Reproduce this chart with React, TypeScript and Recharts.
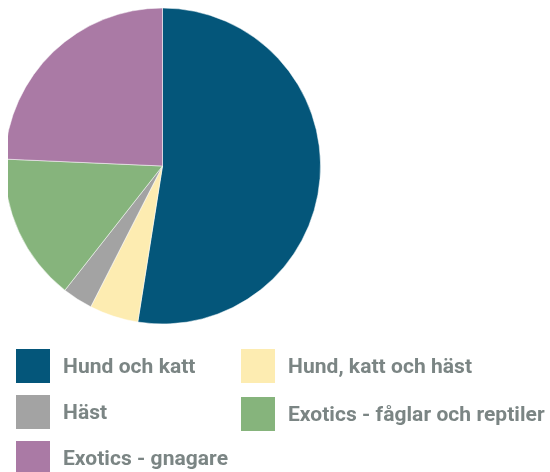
import * as React from 'react';
import { PieChart, Pie, Cell, Legend } from 'recharts';

const categories = [
    'Hund och katt',
    'Hund, katt och häst',
    'Häst',
    'Exotics - fåglar och reptiler',
    'Exotics - gnagare',
];
const shares = [52.5, 5.0, 3.1, 15.1, 24.3];
const colors = ['#04567a', '#fdecb1', '#a3a3a3', '#86b47c', '#aa7aa5'];

// legend order in the picture: two columns, row by row
const legendOrder = [0, 1, 2, 3, 4];

const data = categories.map((name, i) => ({ name, value: shares[i] }));

const LegendGrid = () => (
    <div style={{ position: 'relative', width: 534, height: 124 }}>
        {legendOrder.map((idx, k) => {
            const col = k % 2;
            const row = Math.floor(k / 2);
            return (
                <div
                    key={idx}
                    style={{
                        position: 'absolute',
                        left: col === 0 ? 0 : 225,
                        top: row * 46 + (col === 1 && row === 1 ? 2 : 0),
                        display: 'flex',
                        alignItems: 'center',
                        height: 34,
                        whiteSpace: 'nowrap',
                    }}
                >
                    <span style={{ width: 34, height: 34, flex: 'none', background: colors[idx], display: 'inline-block' }} />
                    <span
                        style={{
                            marginLeft: 13,
                            fontFamily: 'Roboto, sans-serif',
                            fontWeight: 700,
                            fontSize: 21,
                            letterSpacing: 0.05,
                            color: '#7b8584',
                        }}
                    >
                        {categories[idx]}
                    </span>
                </div>
            );
        })}
    </div>
);

export default function App() {
    // fixed so the chart never makes the page scroll
    return (
        <div style={{ position: 'fixed', left: 8, top: 8 }}>
            <PieChart width={542} height={464} margin={{ top: 0, right: 0, bottom: 0, left: 0 }}>
                <Pie
                    data={data}
                    dataKey="value"
                    nameKey="name"
                    cx={154.5}
                    cy={158}
                    outerRadius={158}
                    startAngle={90}
                    endAngle={-270}
                    stroke="#ffffff"
                    strokeWidth={0.5}
                    isAnimationActive={false}
                >
                    {data.map((d, i) => (
                        <Cell key={d.name} fill={colors[i]} />
                    ))}
                </Pie>
                <Legend
                    content={() => <LegendGrid />}
                    wrapperStyle={{ position: 'absolute', left: 8, top: 341, width: 534, bottom: 'auto' }}
                />
            </PieChart>
        </div>
    );
}
